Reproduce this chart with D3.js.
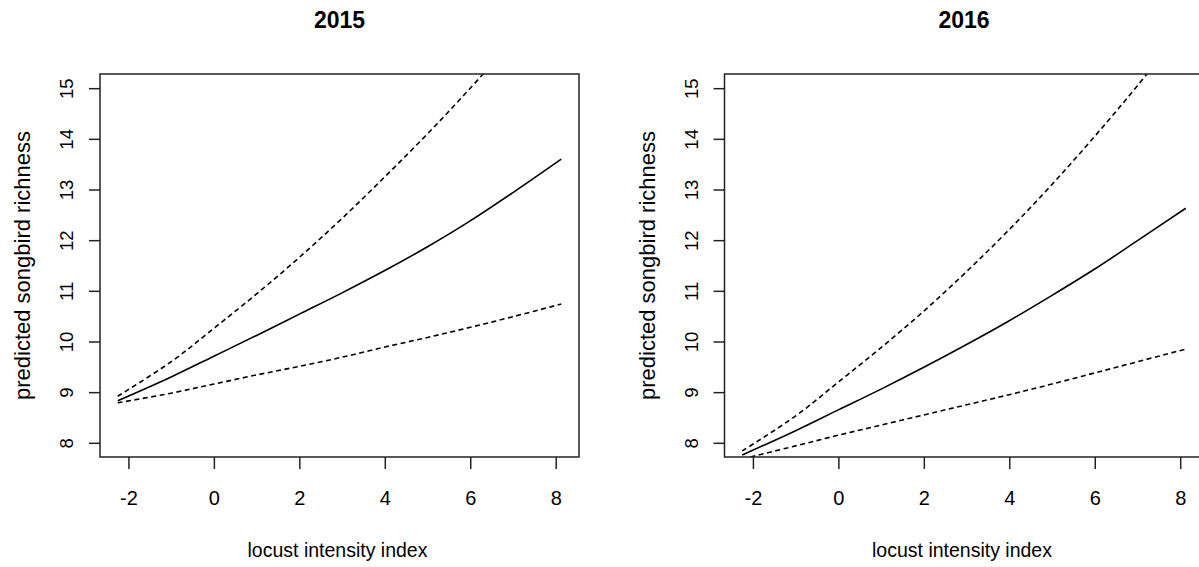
<!DOCTYPE html>
<html>
<head>
<meta charset="utf-8">
<script src="https://cdn.jsdelivr.net/npm/d3@7"></script>
<style>
  html, body { margin: 0; padding: 0; background: #fff; }
  svg { display: block; }
  text { font-family: "Liberation Sans", Arial, sans-serif; fill: #000; }
</style>
</head>
<body>
<svg id="chart" width="1199" height="567"></svg>
<script>
// ---- data ----
const xIndex = [-2.25, -1, 0, 1, 2, 3, 4, 5, 6, 7, 8.13];

const fit2015   = [8.83, 9.30, 9.71, 10.12, 10.54, 10.96, 11.40, 11.87, 12.38, 12.94, 13.60];
const upper2015 = [8.92, 9.60, 10.26, 10.94, 11.66, 12.43, 13.25, 14.10, 15.00, 15.95, 17.10];
const lower2015 = [8.79, 8.98, 9.16, 9.34, 9.51, 9.69, 9.89, 10.08, 10.28, 10.49, 10.74];

const fit2016   = [7.76, 8.24, 8.65, 9.06, 9.49, 9.94, 10.41, 10.91, 11.43, 11.99, 12.63];
const upper2016 = [7.84, 8.53, 9.20, 9.88, 10.60, 11.38, 12.21, 13.10, 14.05, 15.05, 16.25];
const lower2016 = [7.68, 7.94, 8.15, 8.35, 8.55, 8.75, 8.95, 9.16, 9.38, 9.60, 9.85];

const panelTitles = ["2015", "2016"];
const xTicks = [-2, 0, 2, 4, 6, 8];
const yTicks = [8, 9, 10, 11, 12, 13, 14, 15];
const yLimits = [8, 15];
const xLabel = "locust intensity index";
const yLabel = "predicted songbird richness";

// ---- layout ----
const svg = d3.select("#chart");
const boxTop = 74, boxBottom = 457, boxW = 479;
const panelLefts = [100, 724.5];

const panels = [
  { title: panelTitles[0], fit: fit2015, upper: upper2015, lower: lower2015 },
  { title: panelTitles[1], fit: fit2016, upper: upper2016, lower: lower2016 }
];

// R-style 4% axis expansion
function expand(lo, hi) { const d = (hi - lo) * 0.04; return [lo - d, hi + d]; }
const xDom = expand(d3.min(xIndex), d3.max(xIndex));
const yDom = expand(yLimits[0], yLimits[1]);
const fmt = d => String(d); // plain hyphen-minus like R

panels.forEach((p, i) => {
  const left = panelLefts[i];
  const x = d3.scaleLinear().domain(xDom).range([left, left + boxW]);
  const y = d3.scaleLinear().domain(yDom).range([boxBottom, boxTop]);
  const g = svg.append("g");

  const clipId = "clip" + i;
  svg.append("clipPath").attr("id", clipId)
    .append("rect").attr("x", left).attr("y", boxTop)
    .attr("width", boxW).attr("height", boxBottom - boxTop);

  const line = d3.line().x((d, k) => x(xIndex[k])).y(d => y(d))
    .curve(d3.curveCatmullRom.alpha(0.5));

  const lg = g.append("g").attr("clip-path", `url(#${clipId})`);
  [[p.upper, "5,3.5"], [p.lower, "5,3.5"], [p.fit, null]].forEach(([vals, dash]) => {
    lg.append("path").datum(vals)
      .attr("d", line)
      .attr("fill", "none")
      .attr("stroke", "#000")
      .attr("stroke-width", 1.6)
      .attr("stroke-dasharray", dash);
  });

  // box
  g.append("rect").attr("x", left).attr("y", boxTop)
    .attr("width", boxW).attr("height", boxBottom - boxTop)
    .attr("fill", "none").attr("stroke", "#222").attr("stroke-width", 1.5);

  // x axis
  const xa = g.append("g").attr("transform", `translate(0,${boxBottom})`)
    .call(d3.axisBottom(x).tickValues(xTicks).tickSize(12).tickFormat(fmt));
  xa.select(".domain").remove();
  xa.selectAll(".tick line").attr("stroke", "#222").attr("stroke-width", 1.5);
  xa.selectAll(".tick text").attr("y", 48).attr("dy", null)
    .style("font-size", "20px").attr("fill", "#000");

  // y axis
  const ya = g.append("g").attr("transform", `translate(${left},0)`)
    .call(d3.axisLeft(y).tickValues(yTicks).tickSize(11).tickFormat(fmt));
  ya.select(".domain").remove();
  ya.selectAll(".tick line").attr("stroke", "#222").attr("stroke-width", 1.5);
  ya.selectAll(".tick text")
    .attr("x", 0).attr("y", -27).attr("dy", null)
    .attr("text-anchor", "middle")
    .attr("transform", "rotate(-90)")
    .style("font-size", "18.5px").attr("fill", "#000");

  // title
  g.append("text").attr("x", left + boxW / 2).attr("y", 28)
    .attr("text-anchor", "middle")
    .style("font-size", "23px").style("font-weight", "bold")
    .text(p.title);

  // x label
  g.append("text").attr("x", left + boxW / 2 - 2).attr("y", 557)
    .attr("text-anchor", "middle")
    .style("font-size", "19.5px")
    .text(xLabel);

  // y label
  g.append("text")
    .attr("transform", `translate(${left - 70},${(boxTop + boxBottom) / 2}) rotate(-90)`)
    .attr("text-anchor", "middle")
    .style("font-size", "22px")
    .text(yLabel);
});
</script>
</body>
</html>
